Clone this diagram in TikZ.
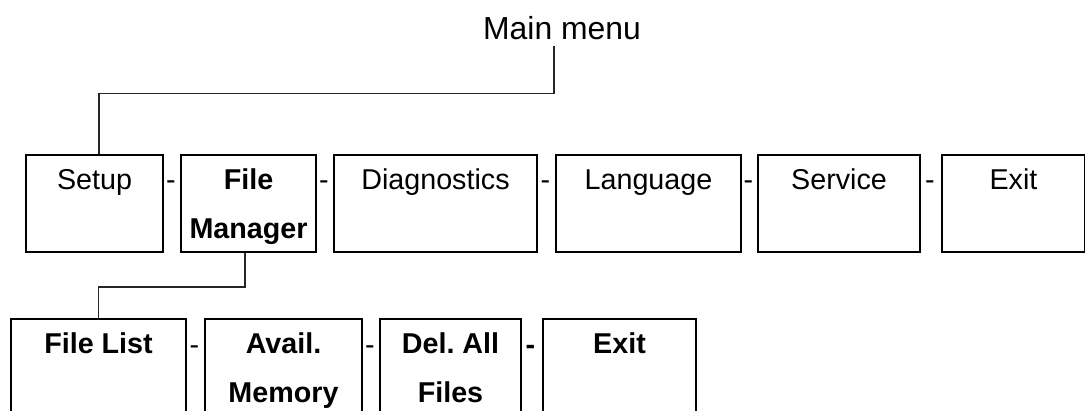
\documentclass[tikz,border=0pt]{standalone}
\usepackage{fontspec}
\setmainfont{Liberation Sans}

\tikzset{
  menubox/.style={draw, line width=2bp, inner sep=0pt, anchor=north west, minimum height=97bp},
  subbox/.style={menubox, minimum height=110bp},
  itemtext/.style={inner sep=0pt, anchor=north, align=center},
  sepdash/.style={inner sep=0pt, anchor=base},
  conn/.style={line width=1.3bp, black!85}
}
\newcommand{\boxfont}{\fontsize{28.8}{50}\selectfont}

\begin{document}
\begin{tikzpicture}[x=1bp,y=-1bp]
  \path[use as bounding box] (0,0) rectangle (1085,410);
  \clip (0,0) rectangle (1085,410);

  \node[inner sep=0pt, anchor=base, font=\fontsize{32}{38}\selectfont] (mainmenu) at (562,39) {Main menu};

  % main menu row
  \foreach \nm/\xl/\w/\fnt/\txt in {setup/25/137/\mdseries/Setup, fm/180/135/\bfseries/{File\\Manager},
      diag/333/203/\mdseries/Diagnostics, lang/555/185/\mdseries/Language,
      serv/757/162/\mdseries/Service, exit/941/143/\mdseries/Exit}{
    \node[menubox, minimum width=\w bp] (\nm) at (\xl,154) {};
    \node[itemtext, font=\fnt\boxfont] (\nm-t) at (\nm.north) {\strut\txt};}
  \foreach \nm/\x in {d1/171, d2/324, d3/545.5, d4/748.5, d5/930}{
    \node[sepdash, font=\boxfont] (\nm) at (\x,189) {-};}

  % file manager row
  \foreach \nm/\xl/\w/\txt in {flist/10/175/File List, avail/204/157/{Avail.\\Memory},
      delall/379/141/{Del.\ All\\Files}, fexit/542/153/Exit}{
    \node[subbox, minimum width=\w bp] (\nm) at (\xl,318) {};
    \node[itemtext, font=\bfseries\boxfont] (\nm-t) at (\nm.north) {\strut\txt};}
  \node[sepdash, font=\boxfont] (e1) at (194.5,354) {-};
  \node[sepdash, font=\boxfont] (e2) at (370,354) {-};
  \node[sepdash, font=\bfseries\boxfont] (e3) at (530.5,354) {-};

  \draw[conn] ([xshift=-8bp,yshift=-6bp]mainmenu.south) -- ++(0,48) -| ([xshift=4.5bp]setup.north);
  \draw[conn] ([xshift=-3.5bp]fm.south) -- ++(0,34) -| (flist.north);
\end{tikzpicture}
\end{document}
